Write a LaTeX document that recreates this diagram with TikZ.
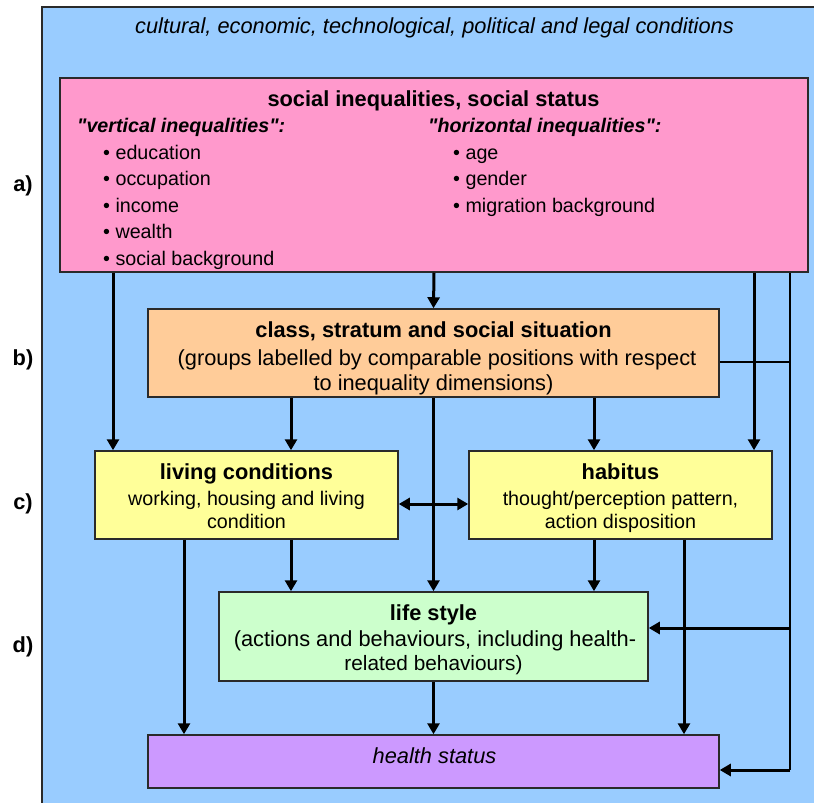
\documentclass[tikz,border=0pt]{standalone}
\usepackage{fontspec}
\setmainfont{Liberation Sans}[Ligatures=TeXOff]
\usetikzlibrary{arrows.meta}
\definecolor{bluec}{HTML}{99CCFF}
\definecolor{pinkc}{HTML}{FF99CC}
\definecolor{orangec}{HTML}{FFCC99}
\definecolor{yellowc}{HTML}{FFFF99}
\definecolor{greenc}{HTML}{CCFFCC}
\definecolor{purplec}{HTML}{CC99FF}
\definecolor{edgec}{HTML}{2A2A2A}
\newcommand\fbig{\fontsize{21.8}{26}\selectfont}
\newcommand\fsml{\fontsize{19.7}{24}\selectfont}
\newcommand\dq{\symbol{34}}
\tikzset{
  box/.style={draw=edgec, line width=1.5pt, inner sep=0pt},
  txt/.style={inner sep=0pt, anchor=base, font=\fbig},
  stxt/.style={inner sep=0pt, anchor=base, font=\fsml},
  ltxt/.style={inner sep=0pt, anchor=base west, font=\fsml},
  arr/.style={line width=3pt, -{Triangle[length=11pt,width=12pt]}},
  arrb/.style={line width=3pt, {Triangle[length=11pt,width=12pt]}-{Triangle[length=11pt,width=12pt]}},
  thinline/.style={line width=1.5pt},
}
\begin{document}
\begin{tikzpicture}[x=1pt, y=-1pt]
\useasboundingbox (0,0) rectangle (814,803);
% outer background
\fill[bluec] (42,7) rectangle (814,803);
\draw[edgec, line width=2pt] (42,803) -- (42,7) -- (814,7);
\node[txt] (cond) at (434.5,33) {\itshape cultural, economic, technological, political and legal conditions};

% boxes
\node[box, fill=pinkc, minimum width=748pt, minimum height=194pt] (pink) at (434,175) {};
\node[box, fill=orangec, minimum width=571pt, minimum height=88pt] (orange) at (433.5,353) {};
\node[box, fill=yellowc, minimum width=303pt, minimum height=88pt] (living) at (246.5,495) {};
\node[box, fill=yellowc, minimum width=303pt, minimum height=88pt] (habitus) at (620.5,495) {};
\node[box, fill=greenc, minimum width=429pt, minimum height=89pt] (life) at (433.5,636.5) {};
\node[box, fill=purplec, minimum width=571pt, minimum height=53pt] (health) at (433.5,761.5) {};

% pink texts
\node[txt] (pt) at (433.5,106) {\bfseries social inequalities, social status};
\node[ltxt] (vt) at (77,132) {\bfseries\itshape \dq vertical inequalities\dq:};
\node[ltxt] (ht) at (428,132) {\bfseries\itshape \dq horizontal inequalities\dq:};
\node[ltxt] (v1) at (103,159) {\textbullet{} education};
\node[ltxt] (v2) at (103,185.5) {\textbullet{} occupation};
\node[ltxt] (v3) at (103,212) {\textbullet{} income};
\node[ltxt] (v4) at (103,238.5) {\textbullet{} wealth};
\node[ltxt] (v5) at (103,265) {\textbullet{} social background};
\node[ltxt] (h1) at (453,159) {\textbullet{} age};
\node[ltxt] (h2) at (453,185.5) {\textbullet{} gender};
\node[ltxt] (h3) at (453,212) {\textbullet{} migration background};

% orange texts
\node[txt] (o1) at (433.5,337) {\bfseries class, stratum and social situation};
\node[txt] (o2) at (437,365) {(groups labelled by comparable positions with respect};
\node[txt] (o3) at (433.5,390) {to inequality dimensions)};

% living texts
\node[txt] (l1) at (246.5,479) {\bfseries living conditions};
\node[stxt] (l2) at (246.5,505) {working, housing and living};
\node[stxt] (l3) at (246.5,528) {condition};

% habitus texts
\node[txt] (hb1) at (620.5,479) {\bfseries habitus};
\node[stxt] (hb2) at (620.5,505) {thought/perception pattern,};
\node[stxt] (hb3) at (620.5,528) {action disposition};

% life style texts
\node[txt] (ls1) at (433.5,620) {\bfseries life style};
\node[txt] (ls2) at (435,646) {(actions and behaviours, including health-};
\node[stxt] (ls3) at (433.5,670) {\fontsize{20.8}{24}\selectfont related behaviours)};

% health
\node[txt] (hs) at (434.5,763) {\itshape health status};

% side labels
\node[txt] (la) at (23,191) {\bfseries a)};
\node[txt] (lb) at (23,365) {\bfseries b)};
\node[txt] (lc) at (23,509) {\bfseries c)};
\node[txt] (ld) at (23,652) {\bfseries d)};

% helper coordinates
\coordinate (xa) at (113,0);
\coordinate (xb) at (291,0);
\coordinate (xc) at (594,0);
\coordinate (xd) at (754,0);
\coordinate (xe) at (184,0);
\coordinate (xf) at (684,0);
\coordinate (xr) at (790,0);
\coordinate (yl) at (0,504);
\coordinate (yo) at (0,362);
\coordinate (yf) at (0,628);
\coordinate (yh) at (0,770);

% thin connectors
\draw[thinline] (orange.east |- yo) -- (xr |- yo);
\draw[thinline] (pink.south -| xr) -- (xr |- yh);

% thick arrows
\draw[arr] (pink.south -| xa) -- (living.north -| xa);
\draw[arr] (pink.south) -- (orange.north);
\draw[arr] (pink.south -| xd) -- (habitus.north -| xd);
\draw[arr] (orange.south -| xb) -- (living.north -| xb);
\draw[arr] (orange.south) -- (life.north);
\draw[arr] (orange.south -| xc) -- (habitus.north -| xc);
\draw[arrb] (living.east |- yl) -- (habitus.west |- yl);
\draw[arr] (living.south -| xb) -- (life.north -| xb);
\draw[arr] (living.south -| xe) -- (health.north -| xe);
\draw[arr] (habitus.south -| xc) -- (life.north -| xc);
\draw[arr] (habitus.south -| xf) -- (health.north -| xf);
\draw[arr] (life.south) -- (health.north);
\draw[arr] (xr |- yf) -- (life.east |- yf);
\draw[arr] (xr |- yh) -- (health.east |- yh);
\end{tikzpicture}
\end{document}
